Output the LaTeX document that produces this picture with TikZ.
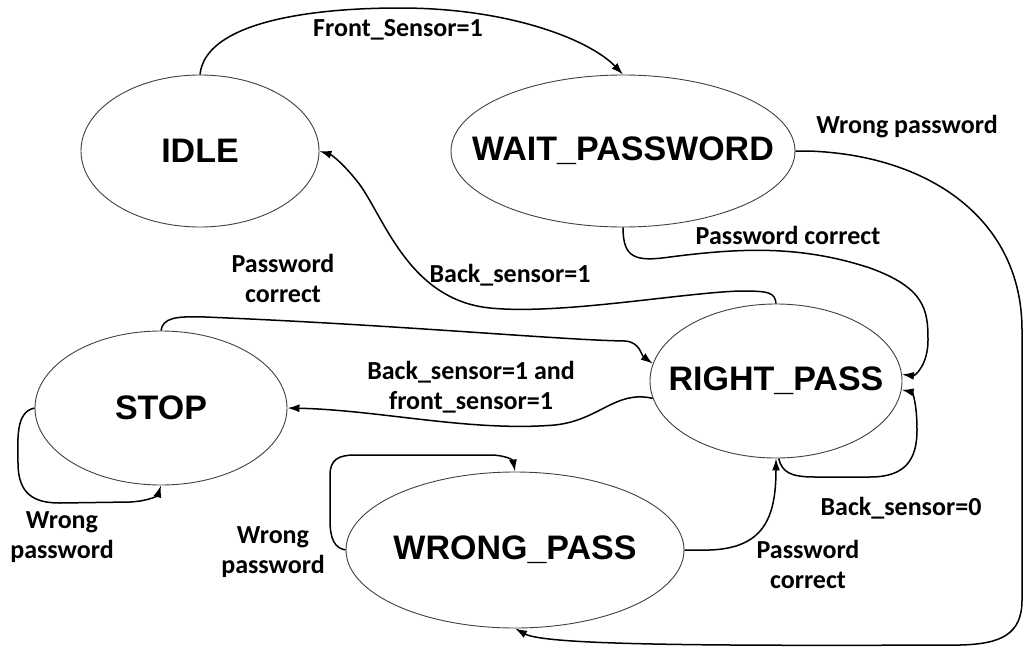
\documentclass[tikz,border=0pt]{standalone}
\usepackage{fontspec}
\setmainfont{Liberation Sans}
\newfontfamily\labfont{Carlito}
\usetikzlibrary{shapes.geometric,arrows.meta}
\tikzset{
  state/.style={ellipse, draw=black!75, line width=0.9pt, inner sep=0pt},
  statetext/.style={font=\fontsize{34}{34}\selectfont\bfseries, inner sep=0pt},
  elabel/.style={font=\labfont\bfseries\fontsize{26}{30}\selectfont, align=center, inner sep=0pt},
  edge/.style={line width=1.5pt, -{Latex[length=12pt,width=8pt]}}
}
\begin{document}
\begin{tikzpicture}[x=1pt,y=-1pt]
\useasboundingbox (0,0) rectangle (1027,648);
% states
\node[state, minimum width=238pt, minimum height=152pt] (idle) at (200,151) {};
\node[state, minimum width=344pt, minimum height=152pt] (wait) at (623,151) {};
\node[state, minimum width=252pt, minimum height=154pt] (rightp) at (776,381) {};
\node[state, minimum width=252pt, minimum height=154pt] (stop) at (161,408) {};
\node[state, minimum width=338pt, minimum height=156pt] (wrongp) at (515,550) {};
\node[statetext] (idleT) at (idle.center) {IDLE};
\node[statetext] (waitT) at (wait.center) {WAIT\_PASSWORD};
\node[statetext] (rightpT) at (rightp.center) {RIGHT\_PASS};
\node[statetext] (stopT) at (stop.center) {STOP};
\node[statetext] (wrongpT) at (wrongp.center) {WRONG\_PASS};
% connectors
\draw[edge] (idle.north) .. controls (205,25) and (300,8) .. (400,8)
  .. controls (510,8) and (590,40) .. (wait.north);
\draw[edge] (wait.east) -- (808,151) .. controls (930,155) and (1022,220) .. (1022,330)
  -- (1022,600) .. controls (1022,635) and (1000,644) .. (960,645)
  .. controls (700,646) and (545,645) .. (wrongp.south);
\draw[edge] (wait.south) .. controls (623,258) and (635,262) .. (670,257)
  .. controls (740,248) and (800,245) .. (870,268)
  .. controls (925,288) and (928,310) .. (928,340)
  .. controls (928,365) and (915,376) .. (rightp.3);
\draw[edge] (rightp.north) .. controls (775,292) and (768,291) .. (740,291)
  .. controls (680,293) and (560,315) .. (490,308)
  .. controls (410,300) and (385,220) .. (360,185)
  .. controls (345,165) and (332,155) .. (idle.east);
\draw[edge] (stop.north) .. controls (163,318) and (175,316) .. (205,317)
  .. controls (400,325) and (560,340) .. (625,341)
  .. controls (640,342) and (641,355) .. (rightp.172);
\draw[edge] (rightp.188) .. controls (615,390) and (600,420) .. (555,425)
  .. controls (470,432) and (380,410) .. (stop.east);
\draw[edge] (stop.west) .. controls (15,412) and (18,440) .. (18,463)
  .. controls (18,495) and (35,503) .. (60,503) -- (130,502)
  .. controls (150,501) and (158,495) .. (stop.south);
\draw[edge] (wrongp.west) .. controls (335,548) and (330,540) .. (330,520) -- (330,475)
  .. controls (330,460) and (338,455) .. (355,455) -- (490,455)
  .. controls (505,455) and (513,460) .. (wrongp.north);
\draw[edge] (wrongp.east) -- (710,550) .. controls (762,548) and (776,520) .. (rightp.south);
\draw[edge] (rightp.-88) .. controls (782,472) and (790,477) .. (815,477) -- (870,477)
  .. controls (905,477) and (917,460) .. (917,430)
  .. controls (917,402) and (912,392) .. (rightp.-4);
% labels
\node[elabel] (l1) at (398,30) {Front\_Sensor=1};
\node[elabel] (l2) at (907,127) {Wrong password};
\node[elabel] (l3) at (788,235) {Password correct};
\node[elabel] (l4) at (510,275) {Back\_sensor=1};
\node[elabel] (l5) at (283,278) {Password\\correct};
\node[elabel] (l6) at (471,387) {Back\_sensor=1 and\\front\_sensor=1};
\node[elabel] (l7) at (62,537) {Wrong\\password};
\node[elabel] (l8) at (273,552) {Wrong\\password};
\node[elabel] (l9) at (808,564) {Password\\correct};
\node[elabel] (l10) at (901,508) {Back\_sensor=0};
\end{tikzpicture}
\end{document}
